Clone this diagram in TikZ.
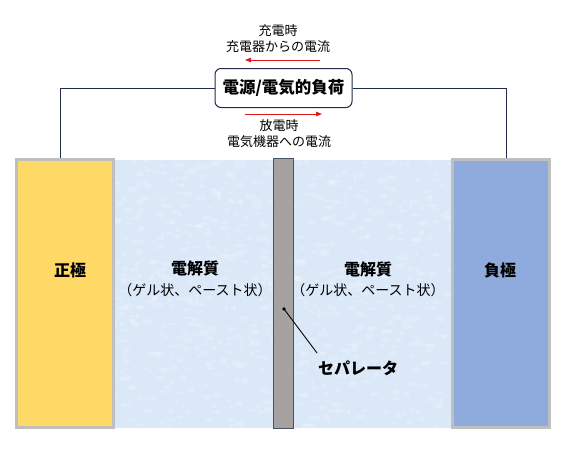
\documentclass[tikz,border=0pt]{standalone}
\usepackage{fontspec}
\newfontfamily\jp{Noto Sans CJK JP}
\usetikzlibrary{positioning,arrows.meta}
\definecolor{posyellow}{RGB}{255,217,102}
\definecolor{negblue}{RGB}{143,170,220}
\definecolor{elecgray}{RGB}{191,191,191}
\definecolor{lyte}{RGB}{218,232,248}
\definecolor{sepfill}{RGB}{166,162,162}
\definecolor{sepline}{RGB}{68,84,106}
\definecolor{wirecol}{RGB}{32,44,72}
\definecolor{flowred}{RGB}{225,25,25}
\tikzset{
  electrode/.style={draw=elecgray,line width=3pt,minimum width=97pt,minimum height=268pt,inner sep=0pt},
  wire/.style={draw=wirecol,line width=1pt},
  bigtxt/.style={font=\jp\bfseries\fontsize{16}{19}\selectfont,inner sep=0pt},
  smalltxt/.style={font=\jp\fontsize{13}{16}\selectfont,align=center,inner sep=0pt},
  parentxt/.style={font=\jp\fontsize{14}{16}\selectfont,inner sep=0pt},
  flow/.style={draw=flowred,line width=0.9pt,-{Triangle[length=6pt,width=4.5pt]}}
}
\begin{document}
\begin{tikzpicture}[x=1pt,y=-1pt]
\useasboundingbox (0,0) rectangle (567,450);
% electrolyte with a light mottled look
\fill[lyte] (115,160) rectangle (453,428);
\begin{scope}
\clip (115,160) rectangle (453,428);
\pgfmathsetseed{7}
\foreach \i in {1,...,900}
  \fill[white,opacity=0.18] ({115+338*rnd},{160+268*rnd}) ellipse ({1+5*rnd} and {1+2*rnd});
\end{scope}
% separator
\node[draw=sepline,fill=sepfill,line width=0.8pt,minimum width=20pt,minimum height=270pt,inner sep=0pt] (sep) at (283.5,293) {};
% electrodes
\node[electrode,fill=posyellow] (pos) at (65,293.5) {};
\node[electrode,fill=negblue] (neg) at (501,293.5) {};
% load
\node[draw=wirecol,line width=1pt,fill=white,rounded corners=6pt,minimum width=137pt,minimum height=39pt,bigtxt,font=\jp\bfseries\fontsize{16.5}{19}\selectfont] (src) at (283.5,88) {電源/電気的負荷};
\draw[wire] ([xshift=-5pt]pos.north) |- (src.west);
\draw[wire] ([xshift=5pt]neg.north) |- (src.east);
% current labels
\node[smalltxt] (chg) at (278,39) {充電時\\充電器からの電流};
\node[smalltxt] (dis) at (279,134) {放電時\\電気機器への電流};
\coordinate (chgA) at (320,60);
\coordinate (chgB) at (245,60);
\coordinate (disA) at (245,114);
\coordinate (disB) at (322,114);
\draw[flow] (chgA) -- (chgB);
\draw[flow] (disA) -- (disB);
% texts
\node[bigtxt] (posl) at (70,270) {正極};
\node[bigtxt] (negl) at (500,270) {負極};
\node[bigtxt] (lytel) at (195,268) {電解質};
\node[parentxt] (lytep) at (195,290) {（ゲル状、ペースト状）};
\node[bigtxt] (lyter) at (368,269) {電解質};
\node[parentxt] (lyterp) at (368,290) {（ゲル状、ペースト状）};
\node[bigtxt] (sepl) at (358,368) {セパレータ};
\coordinate (sepdot) at (284,309);
\coordinate (sepend) at (317,353);
\fill (sepdot) circle (1.8pt);
\draw[line width=0.9pt] (sepdot) -- (sepend);
\end{tikzpicture}
\end{document}
